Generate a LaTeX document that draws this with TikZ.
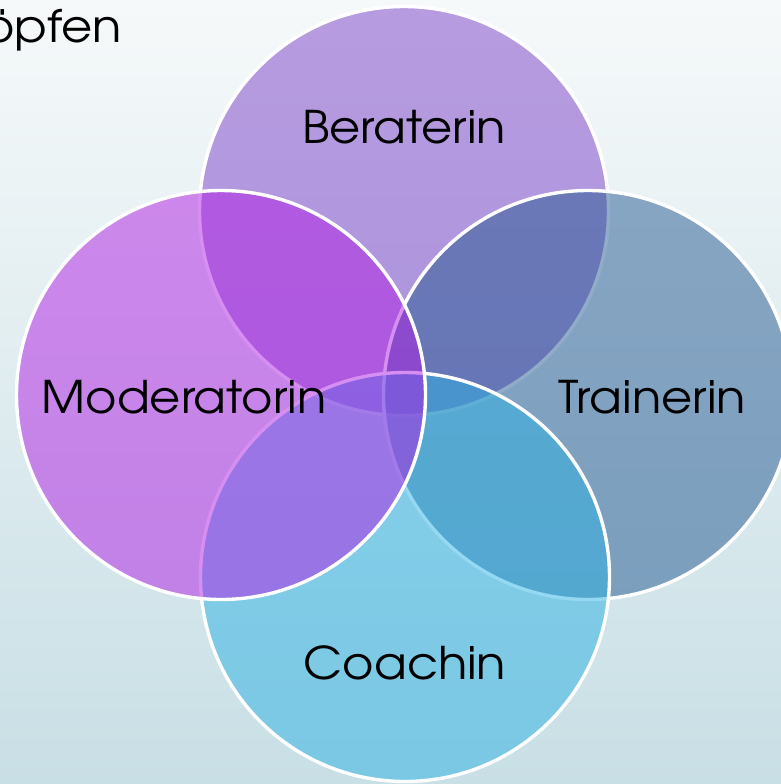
\documentclass[tikz,border=0pt]{standalone}
\usepackage{fontspec}
\setmainfont[FakeStretch=1.065]{TeX Gyre Adventor}
\usepackage{tikz}
\usetikzlibrary{positioning}
\definecolor{berat}{RGB}{122,63,201}
\definecolor{train}{RGB}{36,89,146}
\definecolor{coach}{RGB}{45,178,228}
\definecolor{moder}{RGB}{177,30,228}
\definecolor{bgtop}{RGB}{246,249,250}
\definecolor{bgbot}{RGB}{200,223,229}
\tikzset{
    rolle/.style = {circle, minimum size=409pt, inner sep=0pt, line width=3.4pt, draw=white, fill opacity=0.5},
    rolleb/.style = {rolle, fill=berat},
    rollet/.style = {rolle, fill=train},
    rollec/.style = {rolle, fill=coach},
    rollem/.style = {rolle, fill=moder},
    rtext/.style = {inner sep=0pt, anchor=base, text=black, font=\fontsize{45}{54}\selectfont}
}
\begin{document}
\begin{tikzpicture}[x=1pt,y=-1pt]
\shade[top color=bgtop, bottom color=bgbot] (0,0) rectangle (781,784);
\useasboundingbox (0,0) rectangle (781,784);
\node[rtext, anchor=base east] at (122,43) (titel) {öpfen};
%
\node[rolleb] at (404,211) (berat) {};
\node[rollet] at (588,395) (train) {};
\node[rollec] at (405,577) (coach) {};
\node[rollem] at (221,395) (moder) {};
%
\node[rtext] at (404,143) (tberat) {Beraterin};
\node[rtext] at (652,413) (ttrain) {Trainerin};
\node[rtext] at (405,679) (tcoach) {Coachin};
\node[rtext] at (184,413) (tmoder) {Moderatorin};
\end{tikzpicture}
\end{document}
